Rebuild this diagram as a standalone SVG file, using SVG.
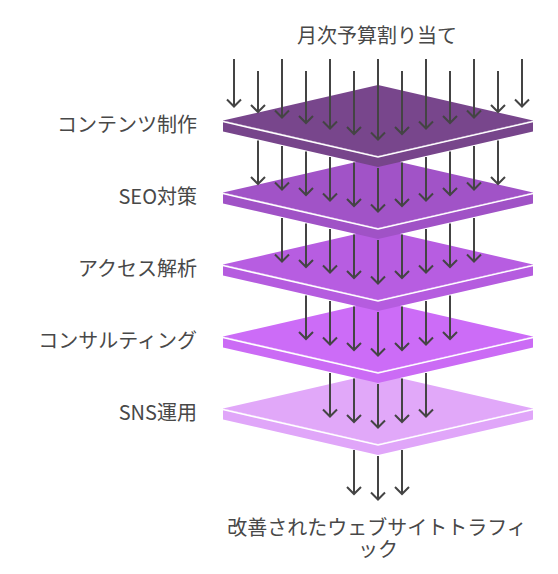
<svg xmlns="http://www.w3.org/2000/svg" width="558" height="574" viewBox="0 0 558 574">
<style>
.lbl{font-family:"Noto Sans CJK JP","Noto Sans",sans-serif;font-size:20px;fill:#484848}
.sep{fill:none;stroke:#ffffff;stroke-width:1.6}
.arr{fill:none;stroke:#444444;stroke-width:2;marker-end:url(#ah)}
</style>
<defs>
<marker id="ah" markerUnits="userSpaceOnUse" markerWidth="18" markerHeight="18" viewBox="-9 -9 18 18" refX="0" refY="0" orient="auto">
<path d="M-7,-7 L0,0 L-7,7" fill="none" stroke="#444444" stroke-width="2"/>
</marker>
</defs>
<rect width="558" height="574" fill="#ffffff"/>
<g id="layer5">
<path d="M223,408.5 L378,444 L533,408.5 L533,419.5 L378,455 L223,419.5 Z" fill="#E0A6F9"/>
<path d="M223,408.5 L378,373 L533,408.5 L378,444 Z" fill="#E1A8F9"/>
<path class="sep" d="M223,409.5 L378,445 L533,409.5"/>
</g>
<g id="layer4">
<path d="M223,336.5 L378,372 L533,336.5 L533,347.5 L378,383 L223,347.5 Z" fill="#CB6BF5"/>
<path d="M223,336.5 L378,301 L533,336.5 L378,372 Z" fill="#CC6CF7"/>
<path class="sep" d="M223,337.5 L378,373 L533,337.5"/>
</g>
<g id="layer3">
<path d="M223,264.5 L378,300 L533,264.5 L533,275.5 L378,311 L223,275.5 Z" fill="#B55CDF"/>
<path d="M223,264.5 L378,229 L533,264.5 L378,300 Z" fill="#B75DE1"/>
<path class="sep" d="M223,265.5 L378,301 L533,265.5"/>
</g>
<g id="layer2">
<path d="M223,192.5 L378,228 L533,192.5 L533,203.5 L378,239 L223,203.5 Z" fill="#A052C6"/>
<path d="M223,192.5 L378,157 L533,192.5 L378,228 Z" fill="#A153C7"/>
<path class="sep" d="M223,193.5 L378,229 L533,193.5"/>
</g>
<g id="layer1">
<path d="M223,120.5 L378,156 L533,120.5 L533,131.5 L378,167 L223,131.5 Z" fill="#77458B"/>
<path d="M223,120.5 L378,85 L533,120.5 L378,156 Z" fill="#78468C"/>
<path class="sep" d="M223,121.5 L378,157 L533,121.5"/>
</g>
<g id="connectors">
<path class="arr" d="M234,59 V106.5"/>
<path class="arr" d="M258,71 V112"/>
<path class="arr" d="M282,59 V117.5"/>
<path class="arr" d="M306,71 V123"/>
<path class="arr" d="M330,59 V128.5"/>
<path class="arr" d="M354,71 V134"/>
<path class="arr" d="M378,59 V139.5"/>
<path class="arr" d="M402,71 V134"/>
<path class="arr" d="M426,59 V128.5"/>
<path class="arr" d="M450,71 V123"/>
<path class="arr" d="M474,59 V117.5"/>
<path class="arr" d="M498,71 V112"/>
<path class="arr" d="M522,59 V106.5"/>

<path class="arr" d="M258,140.5 V184"/>
<path class="arr" d="M282,146 V189.5"/>
<path class="arr" d="M306,151.5 V195"/>
<path class="arr" d="M330,157 V200.5"/>
<path class="arr" d="M354,162.5 V206"/>
<path class="arr" d="M378,168 V211.5"/>
<path class="arr" d="M402,162.5 V206"/>
<path class="arr" d="M426,157 V200.5"/>
<path class="arr" d="M450,151.5 V195"/>
<path class="arr" d="M474,146 V189.5"/>
<path class="arr" d="M498,140.5 V184"/>

<path class="arr" d="M282,218 V261.5"/>
<path class="arr" d="M306,223.5 V267"/>
<path class="arr" d="M330,229 V272.5"/>
<path class="arr" d="M354,234.5 V278"/>
<path class="arr" d="M378,240 V283.5"/>
<path class="arr" d="M402,234.5 V278"/>
<path class="arr" d="M426,229 V272.5"/>
<path class="arr" d="M450,223.5 V267"/>
<path class="arr" d="M474,218 V261.5"/>

<path class="arr" d="M306,295.5 V339"/>
<path class="arr" d="M330,301 V344.5"/>
<path class="arr" d="M354,306.5 V350"/>
<path class="arr" d="M378,312 V355.5"/>
<path class="arr" d="M402,306.5 V350"/>
<path class="arr" d="M426,301 V344.5"/>
<path class="arr" d="M450,295.5 V339"/>

<path class="arr" d="M330,373 V416.5"/>
<path class="arr" d="M354,378.5 V422"/>
<path class="arr" d="M378,384 V427.5"/>
<path class="arr" d="M402,378.5 V422"/>
<path class="arr" d="M426,373 V416.5"/>

<path class="arr" d="M354,450 V494"/>
<path class="arr" d="M378,456 V499.5"/>
<path class="arr" d="M402,450 V494"/>
</g>
<g id="title"><text class="lbl" x="377" y="42.5" text-anchor="middle">月次予算割り当て</text></g>
<g id="label1"><text class="lbl" x="197" y="131.5" text-anchor="end">コンテンツ制作</text></g>
<g id="label2"><text class="lbl" x="197" y="203.5" text-anchor="end">SEO対策</text></g>
<g id="label3"><text class="lbl" x="197" y="275.5" text-anchor="end">アクセス解析</text></g>
<g id="label4"><text class="lbl" x="197" y="347.5" text-anchor="end">コンサルティング</text></g>
<g id="label5"><text class="lbl" x="197" y="419.5" text-anchor="end">SNS運用</text></g>
<g id="output"><text class="lbl" x="377" y="535" text-anchor="middle">改善されたウェブサイトトラフィ<tspan x="378" y="557">ック</tspan></text></g>
</svg>
